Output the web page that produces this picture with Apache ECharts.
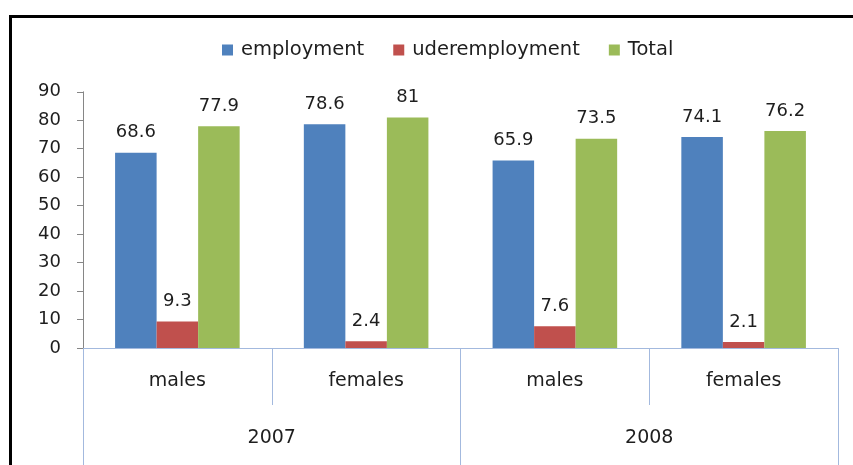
<!DOCTYPE html>
<html>
<head>
<meta charset="utf-8">
<script src="https://cdn.jsdelivr.net/npm/echarts@6/dist/echarts.min.js"></script>
<style>
  html, body { margin: 0; padding: 0; background: #fff; overflow: hidden; }
  #chart { width: 853px; height: 465px; }
</style>
</head>
<body>
<div id="chart"></div>
<script>
// Employment / underemployment rates by sex, 2007 and 2008
const categories = ['males', 'females', 'males', 'females'];
const years = ['2007', '2008'];
const employment = [68.6, 78.6, 65.9, 74.1];
const underemployment = [9.3, 2.4, 7.6, 2.1];
const total = [77.9, 81, 73.5, 76.2];
const seriesNames = ['employment', 'uderemployment', 'Total'];
const yTicks = { min: 0, max: 90, step: 10 };

const FONT = 'DejaVu Sans';
const TEXT = '#1e1e1e';
const AXIS_BLUE = '#a3b9de';
const colors = ['#4f81bd', '#c0504d', '#9bbb59'];

const chart = echarts.init(document.getElementById('chart'), null, { renderer: 'canvas' });

function barSeries(name, values, color) {
  return {
    name: name,
    type: 'bar',
    xAxisIndex: 0,
    data: values,
    barGap: '0%',
    barCategoryGap: '34%',
    itemStyle: { color: color },
    label: {
      show: true,
      position: 'top',
      distance: 11,
      color: TEXT,
      fontFamily: FONT,
      fontSize: 18
    }
  };
}

chart.setOption({
  backgroundColor: '#fff',
  animation: false,
  color: colors,
  legend: {
    left: 217,
    top: 35,
    icon: 'rect',
    itemWidth: 11,
    itemHeight: 11,
    itemGap: 29,
    textStyle: { color: TEXT, fontFamily: FONT, fontSize: 19.5, padding: [0, 0, 0, 3] },
    data: seriesNames
  },
  grid: { left: 83, right: 15, top: 91.8, bottom: 117 },
  xAxis: [
    {
      type: 'category',
      data: categories,
      boundaryGap: true,
      axisLine: { show: true, lineStyle: { color: AXIS_BLUE, width: 1 } },
      axisTick: { show: true, interval: 0, length: 57, lineStyle: { color: AXIS_BLUE } },
      axisLabel: { interval: 0, margin: 24, color: TEXT, fontFamily: FONT, fontSize: 19 }
    },
    {
      type: 'category',
      data: years,
      position: 'bottom',
      offset: 57,
      boundaryGap: true,
      axisLine: { show: false },
      axisTick: { show: true, interval: 0, length: 62, lineStyle: { color: AXIS_BLUE } },
      axisLabel: { interval: 0, margin: 24, color: TEXT, fontFamily: FONT, fontSize: 19 }
    }
  ],
  yAxis: {
    type: 'value',
    min: yTicks.min,
    max: yTicks.max,
    interval: yTicks.step,
    splitLine: { show: false },
    axisLine: { show: true, lineStyle: { color: '#868686' } },
    axisTick: { show: true, length: 6, lineStyle: { color: '#868686' } },
    axisLabel: { margin: 22, color: TEXT, fontFamily: FONT, fontSize: 18 }
  },
  series: [
    barSeries(seriesNames[0], employment, colors[0]),
    barSeries(seriesNames[1], underemployment, colors[1]),
    barSeries(seriesNames[2], total, colors[2])
  ],
  graphic: [
    // outer frame: top and left edges
    { type: 'rect', shape: { x: 9, y: 15, width: 900, height: 3 }, style: { fill: '#000' }, z: 100 },
    { type: 'rect', shape: { x: 9, y: 15, width: 3, height: 460 }, style: { fill: '#000' }, z: 100 }
  ]
});
</script>
</body>
</html>
